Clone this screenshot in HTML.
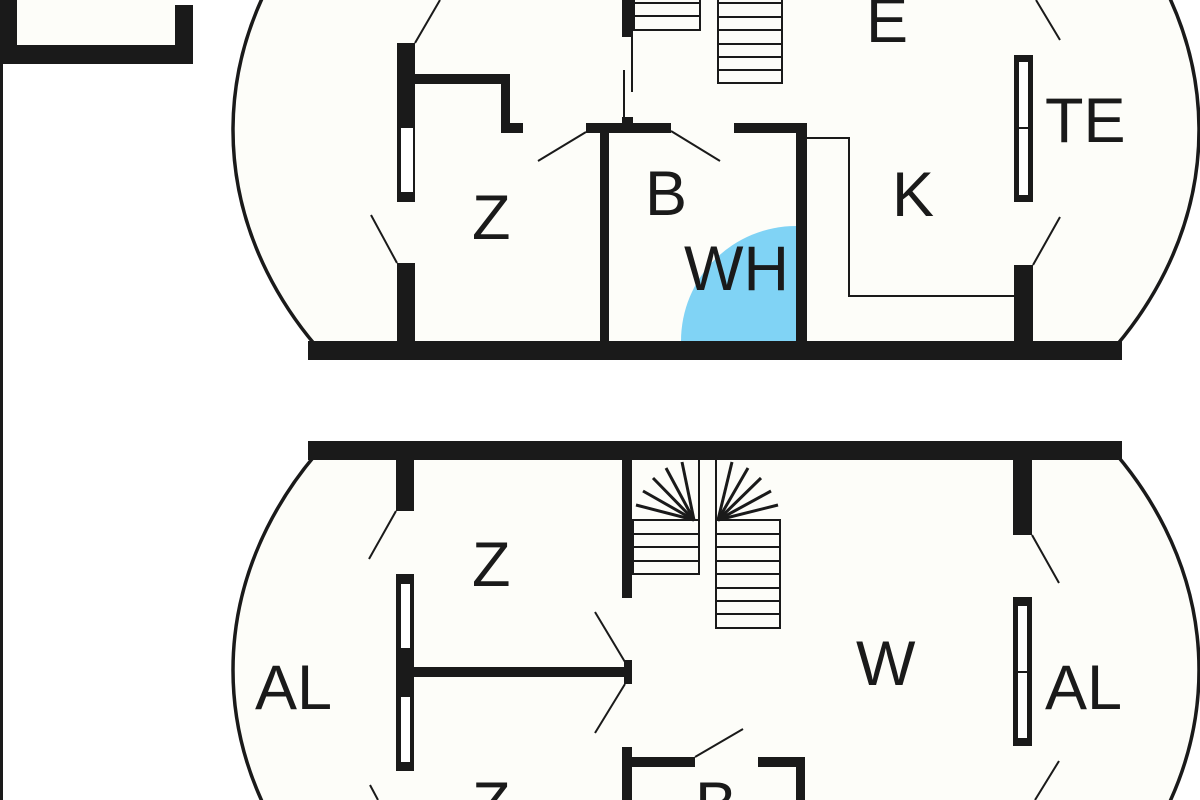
<!DOCTYPE html>
<html><head><meta charset="utf-8"><style>
html,body{margin:0;padding:0;background:#fff;width:1200px;height:800px;overflow:hidden}
svg{display:block;overflow:hidden}
text{font-family:"Liberation Sans",sans-serif;font-size:63px;fill:#1a1a1a}
</style></head><body>
<svg width="1200" height="800" viewBox="0 0 1200 800" xmlns="http://www.w3.org/2000/svg">
<defs>
<clipPath id="ct"><rect x="0" y="0" width="1200" height="345"/></clipPath>
<clipPath id="cb"><rect x="0" y="455" width="1200" height="345"/></clipPath>
<clipPath id="all"><rect x="0" y="0" width="1200" height="800"/></clipPath>
</defs>
<g clip-path="url(#all)">
<rect x="0" y="0" width="3" height="800" fill="#1a1a1a"/>
<path d="M0 0 H17 V45 H175 V5 H193 V64 H0 Z" fill="#1a1a1a"/>
<rect x="17" y="0" width="158" height="45" fill="#fdfdf9"/>

<!-- TOP PLAN -->
<ellipse cx="716" cy="130" rx="483" ry="385" fill="#fdfdf9" stroke="#1a1a1a" stroke-width="3.5" clip-path="url(#ct)"/>
<path d="M796 341 L796 226 A115 115 0 0 0 681 341 Z" fill="#80d3f5"/>
<g fill="#1a1a1a">
<rect x="308" y="341" width="814" height="19"/>
<rect x="397" y="43" width="18" height="159"/>
<rect x="397" y="263" width="18" height="80"/>
<rect x="415" y="74" width="95" height="10"/>
<rect x="501" y="74" width="9" height="59"/>
<rect x="501" y="123" width="22" height="10"/>
<rect x="586" y="123" width="85" height="10"/>
<rect x="600" y="123" width="9" height="220"/>
<rect x="734" y="123" width="73" height="10"/>
<rect x="796" y="123" width="11" height="220"/>
<rect x="1014" y="55" width="19" height="147"/>
<rect x="1014" y="265" width="19" height="78"/>
<rect x="622" y="0" width="11" height="37"/>
<rect x="622" y="117" width="11" height="7"/>
</g>
<rect x="401" y="128" width="12" height="64" fill="#fff"/>
<rect x="1019" y="62" width="9" height="133" fill="#fff"/>
<line x1="1019" y1="128" x2="1028" y2="128" stroke="#1a1a1a" stroke-width="2"/>
<g stroke="#1a1a1a" stroke-width="2" fill="none">
<line x1="415" y1="43" x2="440" y2="0"/>
<line x1="397" y1="263" x2="371" y2="215"/>
<line x1="586" y1="132" x2="538" y2="161"/>
<line x1="671" y1="131" x2="720" y2="161"/>
<line x1="632" y1="37" x2="632" y2="92"/>
<line x1="624" y1="70" x2="624" y2="120"/>
<polyline points="807,138 849,138 849,296 1014,296"/>
<line x1="1033" y1="265" x2="1060" y2="217"/>
<line x1="1036" y1="0" x2="1060" y2="40"/>
<rect x="634" y="-2" width="66" height="32"/>
<line x1="634" y1="3" x2="700" y2="3"/><line x1="634" y1="16" x2="700" y2="16"/>
<rect x="718" y="-2" width="64" height="85"/>
<line x1="718" y1="3" x2="782" y2="3"/><line x1="718" y1="17" x2="782" y2="17"/><line x1="718" y1="30" x2="782" y2="30"/><line x1="718" y1="44" x2="782" y2="44"/><line x1="718" y1="57" x2="782" y2="57"/><line x1="718" y1="70" x2="782" y2="70"/>
</g>
<text x="866" y="42">E</text>
<text x="1045" y="142">TE</text>
<text x="892" y="216">K</text>
<text x="645" y="215">B</text>
<text x="684" y="290">WH</text>
<text x="472" y="239">Z</text>

<!-- BOTTOM PLAN -->
<ellipse cx="716" cy="670" rx="483" ry="385" fill="#fdfdf9" stroke="#1a1a1a" stroke-width="3.5" clip-path="url(#cb)"/>
<g fill="#1a1a1a">
<rect x="308" y="441" width="814" height="19"/>
<rect x="396" y="459" width="18" height="52"/>
<rect x="396" y="574" width="18" height="197"/>
<rect x="414" y="667" width="218" height="10"/>
<rect x="624" y="660" width="8" height="24"/>
<rect x="622" y="459" width="10" height="139"/>
<rect x="1013" y="459" width="19" height="76"/>
<rect x="1013" y="597" width="19" height="149"/>
<rect x="622" y="747" width="10" height="53"/>
<rect x="632" y="757" width="63" height="10"/>
<rect x="758" y="757" width="47" height="10"/>
<rect x="796" y="757" width="9" height="43"/>
</g>
<rect x="401" y="584" width="9" height="64" fill="#fff"/>
<rect x="401" y="697" width="9" height="65" fill="#fff"/>
<rect x="1018" y="606" width="9" height="132" fill="#fff"/>
<line x1="1018" y1="672" x2="1027" y2="672" stroke="#1a1a1a" stroke-width="2"/>
<g stroke="#1a1a1a" stroke-width="2" fill="none">
<line x1="396" y1="511" x2="369" y2="559"/>
<line x1="625" y1="662" x2="595" y2="612"/>
<line x1="625" y1="684" x2="595" y2="733"/>
<line x1="695" y1="757" x2="743" y2="729"/>
<line x1="1032" y1="535" x2="1059" y2="583"/>
<line x1="1059" y1="761" x2="1035" y2="800"/>
<line x1="370" y1="785" x2="378" y2="800"/>
<rect x="633" y="520" width="66" height="54"/>
<line x1="633" y1="534" x2="699" y2="534"/><line x1="633" y1="547" x2="699" y2="547"/><line x1="633" y1="561" x2="699" y2="561"/>
<rect x="716" y="520" width="64" height="108"/>
<line x1="716" y1="534" x2="780" y2="534"/><line x1="716" y1="547" x2="780" y2="547"/><line x1="716" y1="561" x2="780" y2="561"/><line x1="716" y1="574" x2="780" y2="574"/><line x1="716" y1="588" x2="780" y2="588"/><line x1="716" y1="601" x2="780" y2="601"/><line x1="716" y1="614" x2="780" y2="614"/>
<line x1="699" y1="460" x2="699" y2="520"/>
<line x1="716" y1="460" x2="716" y2="520"/>
</g>
<g stroke="#1a1a1a" stroke-width="3" fill="none">
<line x1="694" y1="520" x2="636" y2="505"/><line x1="694" y1="520" x2="643" y2="491"/><line x1="694" y1="520" x2="653" y2="478"/><line x1="694" y1="520" x2="666" y2="468"/><line x1="694" y1="520" x2="682" y2="462"/>
<line x1="718" y1="520" x2="778" y2="505"/><line x1="718" y1="520" x2="771" y2="491"/><line x1="718" y1="520" x2="761" y2="478"/><line x1="718" y1="520" x2="748" y2="468"/><line x1="718" y1="520" x2="732" y2="462"/>
</g>
<text x="472" y="586">Z</text>
<text x="255" y="709">AL</text>
<text x="856" y="685">W</text>
<text x="1045" y="709">AL</text>
<text x="472" y="826">Z</text>
<text x="695" y="826">B</text>
</g>
</svg>
</body></html>
